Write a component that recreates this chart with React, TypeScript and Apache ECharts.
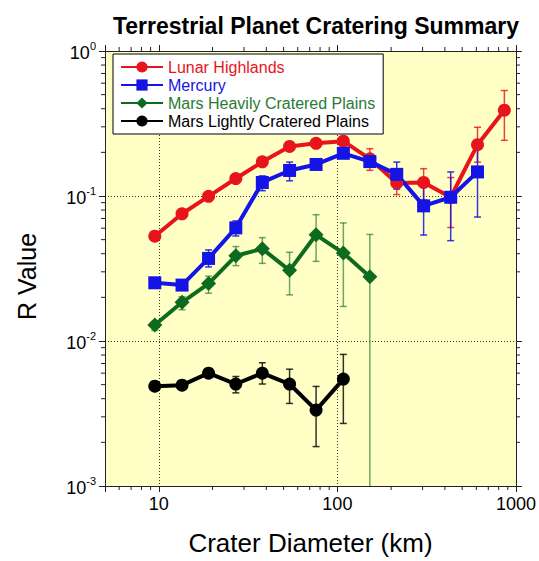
import React, { useEffect, useRef } from "react";
import * as echarts from "echarts";

const diameters = [9.5, 13.5, 19, 27, 38, 54, 76, 108, 152, 215, 304, 431, 609, 861];

const lunar = [0.0528, 0.0754, 0.0995, 0.132, 0.172, 0.2195, 0.2308, 0.239, 0.1805, 0.123, 0.124, 0.098, 0.2258, 0.3906];
const lunarLow = [null, null, null, null, null, null, null, null, 0.1503, 0.1022, 0.0939, 0.0606, 0.171, 0.242];
const lunarHigh = [null, null, null, null, null, null, null, null, 0.212, 0.148, 0.1543, 0.134, 0.298, 0.534];

const mercury = [0.0252, 0.0243, 0.0371, 0.0603, 0.124, 0.15, 0.165, 0.197, 0.1727, 0.141, 0.0855, 0.098, 0.1466];
const mercuryLow = [null, null, 0.0324, 0.053, 0.1088, 0.1273, null, null, null, 0.1116, 0.0538, 0.0492, 0.0716];
const mercuryHigh = [null, null, 0.0425, 0.0673, 0.1376, 0.1714, null, null, null, 0.1714, 0.1146, 0.1466, 0.21];

const marsHeavy = [0.01289, 0.01848, 0.02488, 0.0387, 0.0432, 0.0307, 0.054, 0.0404, 0.0277];
const marsHeavyLow = [0.01183, 0.01643, 0.02135, 0.0331, 0.0343, 0.0208, 0.0354, 0.0173, 0.0005];
const marsHeavyHigh = [0.0136, 0.0202, 0.028, 0.0448, 0.0516, 0.0409, 0.0743, 0.0652, 0.0543];

const marsLight = [0.00488, 0.00496, 0.006, 0.00505, 0.006, 0.00505, 0.00334, 0.00546];
const marsLightLow = [null, null, null, 0.00439, 0.00505, 0.00371, 0.00187, 0.0027];
const marsLightHigh = [null, null, null, 0.00569, 0.00708, 0.00639, 0.00486, 0.00808];

const xMinorTicks = [6, 7, 8, 9, 20, 30, 40, 50, 60, 70, 80, 90, 200, 300, 400, 500, 600, 700, 800, 900];
const yMinorTicks = [0.002, 0.003, 0.004, 0.005, 0.006, 0.007, 0.008, 0.009, 0.02, 0.03, 0.04, 0.05, 0.06, 0.07, 0.08, 0.09, 0.2, 0.3, 0.4, 0.5, 0.6, 0.7, 0.8, 0.9];

const X_MIN = 5;
const X_MAX = 1000;
const Y_MIN = 0.001;
const Y_MAX = 1;

const FONT = "'Liberation Sans', Arial, Helvetica, sans-serif";

const RED = "#e8141c";
const BLUE = "#1414e6";
const GREEN = "#0d6b1f";
const BLACK = "#000000";

function isPow10(v: number) {
  const l = Math.log10(v);
  return Math.abs(l - Math.round(l)) < 1e-6;
}

function errSeries(name: string, vals: number[], low: (number | null)[], high: (number | null)[], color: string) {
  const data: number[][] = [];
  vals.forEach((_, i) => {
    if (low[i] != null && high[i] != null) data.push([diameters[i], low[i] as number, high[i] as number]);
  });
  return {
    type: "custom",
    name: name + " err",
    silent: true,
    encode: { x: 0, y: [1, 2] },
    data,
    z: 2,
    renderItem: (params: any, api: any) => {
      const x = api.value(0);
      const lo = api.value(1);
      const hi = api.value(2);
      const cs = params.coordSys;
      const pHi = api.coord([x, hi]);
      const pLo = api.coord([x, lo]);
      const bottom = cs.y + cs.height;
      const top = cs.y;
      let y1 = pHi[1];
      let y2 = pLo[1];
      const children: any[] = [];
      const style = { stroke: color, lineWidth: 1.5 };
      const clipLo = y2 > bottom;
      const clipHi = y1 < top;
      if (clipLo) y2 = bottom;
      if (clipHi) y1 = top;
      children.push({ type: "line", shape: { x1: pHi[0], y1, x2: pHi[0], y2 }, style });
      if (!clipHi) children.push({ type: "line", shape: { x1: pHi[0] - 3.5, y1, x2: pHi[0] + 3.5, y2: y1 }, style });
      if (!clipLo) children.push({ type: "line", shape: { x1: pHi[0] - 3.5, y1: y2, x2: pHi[0] + 3.5, y2 }, style });
      return { type: "group", children };
    },
  };
}

function lineSeries(name: string, vals: number[], color: string, symbol: string, size: number) {
  return {
    type: "line",
    name,
    data: vals.map((v, i) => [diameters[i], v]),
    symbol,
    symbolSize: size,
    showAllSymbol: true,
    lineStyle: { color, width: 4 },
    itemStyle: { color },
    z: 3,
  };
}

export default function App() {
  const ref = useRef<HTMLDivElement>(null);
  useEffect(() => {
    if (!ref.current) return;
    const chart = echarts.init(ref.current, undefined, { renderer: "svg" });
    const axisLineStyle = { color: "#222", width: 1 };
    const logX = {
      type: "log",
      logBase: 10,
      min: X_MIN,
      max: X_MAX,
    };
    const logY = {
      type: "log",
      logBase: 10,
      min: Y_MIN,
      max: Y_MAX,
    };
    const option: any = {
      animation: false,
      backgroundColor: "#ffffff",
      title: {
        text: "Terrestrial Planet Cratering Summary",
        left: 311,
        top: 9,
        textAlign: "center",
        textStyle: { fontFamily: FONT, fontWeight: "bold", fontSize: 23, color: "#000" },
      },
      grid: {
        left: 105,
        right: 23,
        top: 51,
        bottom: 68,
        show: true,
        backgroundColor: "#ffffc6",
        borderWidth: 0,
      },
      legend: {
        left: 113,
        top: 54,
        orient: "vertical",
        backgroundColor: "#ffffff",
        borderColor: "#000",
        borderWidth: 1,
        padding: [5, 8, 5, 7],
        itemWidth: 42,
        itemHeight: 14,
        itemGap: 2,
        textStyle: { fontFamily: FONT, fontSize: 16, lineHeight: 16 },
        data: [
          { name: "Lunar Highlands", textStyle: { color: RED } },
          { name: "Mercury", textStyle: { color: BLUE } },
          { name: "Mars Heavily Cratered Plains", textStyle: { color: "#2a7a35" } },
          { name: "Mars Lightly Cratered Plains", textStyle: { color: BLACK } },
        ],
      },
      xAxis: [
        {
          ...logX,
          position: "bottom",
          name: "Crater Diameter (km)",
          nameLocation: "middle",
          nameGap: 44,
          nameTextStyle: { fontFamily: FONT, fontSize: 26, color: "#000" },
          axisLine: { show: true, lineStyle: axisLineStyle },
          axisTick: { show: true, length: 6, lineStyle: axisLineStyle },
          axisLabel: {
            show: true,
            margin: 9,
            fontFamily: FONT,
            fontSize: 18,
            color: "#000",
            formatter: (v: number) => (isPow10(v) ? String(Math.round(v)) : ""),
          },
          splitLine: { show: true, lineStyle: { color: "#333", type: [1, 2], width: 1 } },
          minorTick: { show: false },
        },
        {
          ...logX,
          position: "top",
          axisLine: { show: true, lineStyle: axisLineStyle },
          axisTick: { show: true, length: 6, lineStyle: axisLineStyle },
          axisLabel: { show: false },
          splitLine: { show: false },
        },
      ],
      yAxis: [
        {
          ...logY,
          position: "left",
          name: "R Value",
          nameLocation: "middle",
          nameGap: 66,
          nameRotate: 90,
          nameTextStyle: { fontFamily: FONT, fontSize: 25, color: "#000", padding: [0, 16, 0, 0] },
          axisLine: { show: true, lineStyle: axisLineStyle },
          axisTick: { show: true, length: 6, lineStyle: axisLineStyle },
          axisLabel: {
            show: true,
            margin: 9,
            color: "#000",
            formatter: (v: number) => {
              const e = Math.round(Math.log10(v));
              return "{b|10}{s|" + String(e) + "}";
            },
            rich: {
              b: { fontFamily: FONT, fontSize: 18, color: "#000", lineHeight: 22, verticalAlign: "bottom" },
              s: { fontFamily: FONT, fontSize: 11, color: "#000", lineHeight: 22, verticalAlign: "top", padding: [0, 0, 8, 0] },
            },
          },
          splitLine: { show: true, lineStyle: { color: "#333", type: [1, 2], width: 1 } },
        },
        {
          ...logY,
          position: "right",
          axisLine: { show: true, lineStyle: axisLineStyle },
          axisTick: { show: true, length: 6, lineStyle: axisLineStyle },
          axisLabel: { show: false },
          splitLine: { show: false },
        },
      ],
      series: [
        {
          type: "custom",
          name: "xminor",
          silent: true,
          data: xMinorTicks.map((v) => [v, Y_MIN]),
          z: 5,
          renderItem: (params: any, api: any) => {
            const v = api.value(0);
            const pb = api.coord([v, Y_MIN]);
            const pt = api.coord([v, Y_MAX]);
            const style = { stroke: "#222", lineWidth: 1 };
            return {
              type: "group",
              children: [
                { type: "line", shape: { x1: pb[0], y1: pb[1], x2: pb[0], y2: pb[1] + 4 }, style },
                { type: "line", shape: { x1: pt[0], y1: pt[1], x2: pt[0], y2: pt[1] - 4 }, style },
              ],
            };
          },
        },
        {
          type: "custom",
          name: "yminor",
          silent: true,
          data: yMinorTicks.map((v) => [X_MIN, v]),
          z: 5,
          renderItem: (params: any, api: any) => {
            const v = api.value(1);
            const pl = api.coord([X_MIN, v]);
            const pr = api.coord([X_MAX, v]);
            const style = { stroke: "#222", lineWidth: 1 };
            return {
              type: "group",
              children: [
                { type: "line", shape: { x1: pl[0], y1: pl[1], x2: pl[0] - 4, y2: pl[1] }, style },
                { type: "line", shape: { x1: pr[0], y1: pr[1], x2: pr[0] + 4, y2: pr[1] }, style },
              ],
            };
          },
        },
        errSeries("Lunar Highlands", lunar, lunarLow, lunarHigh, "rgba(232,20,28,0.8)"),
        lineSeries("Lunar Highlands", lunar, RED, "circle", 13),
        errSeries("Mercury", mercury, mercuryLow, mercuryHigh, "rgba(20,20,230,0.85)"),
        lineSeries("Mercury", mercury, BLUE, "rect", 13),
        errSeries("Mars Heavily Cratered Plains", marsHeavy, marsHeavyLow, marsHeavyHigh, "rgba(13,107,31,0.6)"),
        lineSeries("Mars Heavily Cratered Plains", marsHeavy, GREEN, "diamond", 15),
        errSeries("Mars Lightly Cratered Plains", marsLight, marsLightLow, marsLightHigh, "rgba(0,0,0,0.8)"),
        lineSeries("Mars Lightly Cratered Plains", marsLight, BLACK, "circle", 13),
      ],
    };
    chart.setOption(option);
    return () => chart.dispose();
  }, []);
  return <div ref={ref} style={{ position: "fixed", left: 0, top: 0, width: 539, height: 561 }} />;
}
